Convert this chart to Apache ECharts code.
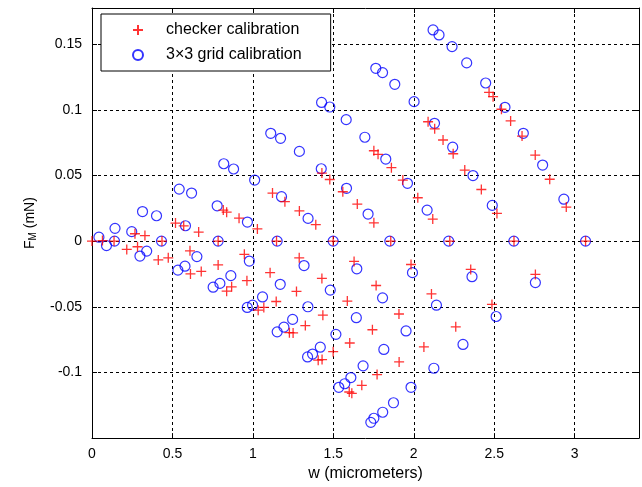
<!DOCTYPE html>
<html>
<head>
<meta charset="utf-8">
<script src="https://cdn.jsdelivr.net/npm/echarts@6/dist/echarts.min.js"></script>
<style>
html,body{margin:0;padding:0;background:#fff;}
#chart{width:642px;height:487px;}
</style>
</head>
<body>
<div id="chart"></div>
<script>
// checker calibration (red +)
var checkerW = [0,0.065,0.137,0.216,0.283,0.267,0.329,0.412,0.474,0.435,0.519,0.570,0.663,0.609,0.612,0.679,0.784,0.837,0.868,0.784,0.816,0.837,0.914,1.028,0.947,0.963,1.033,1.068,1.107,1.145,1.147,1.122,1.199,1.289,1.391,1.288,1.227,1.250,1.271,1.326,1.429,1.435,1.406,1.430,1.499,1.499,1.429,1.478,1.559,1.649,1.752,1.629,1.587,1.602,1.599,1.615,1.677,1.772,1.909,2.063,1.743,1.908,1.766,1.983,1.857,1.752,1.778,1.861,1.932,2.025,2.118,2.089,2.130,2.182,2.245,2.317,2.420,2.517,2.468,2.493,2.545,2.602,2.673,2.755,2.845,2.948,2.224,2.110,2.261,2.354,2.486,2.623,2.756,3.068];
var checkerF = [0,0.0004,0,-0.0063,-0.0043,0.0056,0.0042,-0.0143,-0.0127,0,0.0137,0.0116,0.0069,-0.0074,-0.0250,-0.0231,-0.0181,-0.0381,-0.0348,0,0.0236,0.0220,0.0175,0.0093,-0.0101,-0.0301,-0.0526,-0.0505,-0.0240,-0.0460,0,0.0366,0.0300,0.0230,0.0125,-0.0127,-0.0697,-0.0699,-0.0383,-0.0643,-0.0284,-0.0564,-0.0907,-0.0902,-0.0842,0,0.0518,0.0469,0.0376,0.0282,0.0139,-0.0155,-0.0457,-0.0776,-0.1149,-0.1159,-0.1098,-0.1016,-0.0920,-0.0806,-0.0675,-0.0555,-0.0338,-0.0178,0,0.0688,0.0661,0.0559,0.0465,0.0330,0.0168,0.0909,0.0855,0.0770,0.0665,0.0541,0.0393,0.0211,0.1133,0.1100,0.1004,0.0915,0.0800,0.0655,0.0471,0.0259,0,-0.0402,-0.0653,-0.0216,-0.0482,0,-0.0254,0];

// 3x3 grid calibration (blue o)
var gridW = [0.043,0.090,0.140,0.143,0.247,0.298,0.340,0.314,0.401,0.432,0.542,0.619,0.581,0.534,0.578,0.652,0.753,0.795,0.863,0.784,0.778,0.819,0.880,1.011,0.966,0.978,0.965,0.998,1.060,1.151,1.193,1.247,1.170,1.151,1.178,1.111,1.172,1.289,1.425,1.427,1.478,1.580,1.696,1.826,1.961,2.083,2.217,2.362,2.512,1.318,1.342,1.481,1.499,1.582,1.716,1.851,1.992,2.141,2.306,1.343,1.340,1.371,1.419,1.516,1.643,1.646,1.806,1.952,2.125,1.534,1.571,1.609,1.685,1.814,1.983,1.874,1.807,1.752,1.733,1.764,1.806,1.882,2.002,2.129,2.242,2.368,2.488,2.622,2.756,2.120,2.157,2.238,2.329,2.447,2.567,2.681,2.801,2.933,3.068];
var gridF = [0.0030,-0.0034,0,0.0097,0.0072,-0.0114,-0.0076,0.0225,0.0193,0,0.0396,0.0366,0.0117,-0.0221,-0.0191,-0.0118,-0.0351,-0.0322,-0.0263,0,0.0269,0.0589,0.0549,0.0465,0.0145,-0.0152,-0.0505,-0.0488,-0.0425,-0.0691,-0.0655,-0.0596,-0.0329,0,0.0338,0.0821,0.0783,0.0683,0.0551,0.1056,0.1021,0.0925,0.0791,0.0625,0.0440,0.0236,0,-0.0271,-0.0574,-0.0186,-0.0500,-0.0373,0,0.0402,0.0206,0,-0.0240,-0.0488,-0.0787,0.0173,-0.0882,-0.0860,-0.0808,-0.0710,-0.0583,-0.0211,-0.0432,-0.0684,-0.0968,-0.1113,-0.1086,-0.1039,-0.0950,-0.0825,-0.1113,-0.1231,-0.1303,-0.1349,-0.1380,0.1316,0.1283,0.1194,0.1062,0.0897,0.0715,0.0499,0.0272,0,-0.0316,0.1608,0.1570,0.1481,0.1357,0.1204,0.1019,0.0821,0.0579,0.0319,0];

var seriesNames = ['checker calibration', '3\u00D73 grid calibration'];

function zip(a, b) { return a.map(function (v, i) { return [v, b[i]]; }); }

var FONT = 'Liberation Sans, Arial, sans-serif';
var chart = echarts.init(document.getElementById('chart'), null, {renderer: 'canvas'});

var boxAxisCommon = {
  axisLine: {show: true, onZero: false, lineStyle: {color: '#000', width: 1}},
  axisTick: {show: true, inside: true, length: 5, lineStyle: {color: '#000'}},
  axisLabel: {show: false},
  splitLine: {show: false}
};

chart.setOption({
  animation: false,
  backgroundColor: '#fff',
  grid: {left: 92, right: 3, top: 8, bottom: 48, containLabel: false},
  legend: {
    orient: 'vertical', left: 101, top: 14,
    backgroundColor: '#fff', borderColor: '#000', borderWidth: 1,
    padding: [8, 29, 8, 31], itemGap: 9, itemWidth: 10, itemHeight: 10,
    textStyle: {fontSize: 16, fontFamily: FONT, color: '#000', padding: [0, 0, 0, 18]},
    data: seriesNames
  },
  xAxis: [
    {
      type: 'value', min: 0, max: 3.4, interval: 0.5, position: 'bottom',
      name: 'w (micrometers)', nameLocation: 'middle', nameGap: 24,
      nameTextStyle: {fontSize: 16, fontFamily: FONT, color: '#000'},
      axisLine: {show: true, onZero: false, lineStyle: {color: '#000', width: 1}},
      axisTick: {show: true, inside: true, length: 5, lineStyle: {color: '#000'}},
      axisLabel: {fontSize: 14, fontFamily: FONT, color: '#000', margin: 9, showMaxLabel: false},
      splitLine: {show: true, lineStyle: {color: '#000', type: [3, 3], width: 1}}
    },
    Object.assign({type: 'value', min: 0, max: 3.4, interval: 0.5, position: 'top'}, boxAxisCommon)
  ],
  yAxis: [
    {
      type: 'value', min: -0.15, max: 0.1775, interval: 0.05, position: 'left',
      name: 'F{sub|M} (mN)', nameLocation: 'middle', nameGap: 54, nameRotate: 90,
      nameTextStyle: {fontSize: 14, fontFamily: FONT, color: '#000',
        rich: {sub: {fontSize: 10, fontFamily: FONT, color: '#000', verticalAlign: 'bottom', padding: [6, 0, 0, 0]}}},
      axisLine: {show: true, onZero: false, lineStyle: {color: '#000', width: 1}},
      axisTick: {show: true, inside: true, length: 5, lineStyle: {color: '#000'}},
      axisLabel: {fontSize: 14, fontFamily: FONT, color: '#000', margin: 10, showMinLabel: false, showMaxLabel: false},
      splitLine: {show: true, lineStyle: {color: '#000', type: [3, 3], width: 1}}
    },
    Object.assign({type: 'value', min: -0.15, max: 0.1775, interval: 0.05, position: 'right'}, boxAxisCommon)
  ],
  series: [
    {
      name: seriesNames[0], type: 'scatter', xAxisIndex: 0, yAxisIndex: 0,
      symbol: 'path://M0,5L10,5M5,0L5,10', symbolSize: 10,
      itemStyle: {color: 'rgba(0,0,0,0)', borderColor: '#ff0000', borderWidth: 1.3},
      emphasis: {disabled: true},
      data: zip(checkerW, checkerF), z: 3
    },
    {
      name: seriesNames[1], type: 'scatter', xAxisIndex: 0, yAxisIndex: 0,
      symbol: 'circle', symbolSize: 10,
      itemStyle: {color: 'rgba(0,0,0,0)', borderColor: '#0000ff', borderWidth: 1.2},
      emphasis: {disabled: true},
      data: zip(gridW, gridF), z: 2
    }
  ]
});
</script>
</body>
</html>
